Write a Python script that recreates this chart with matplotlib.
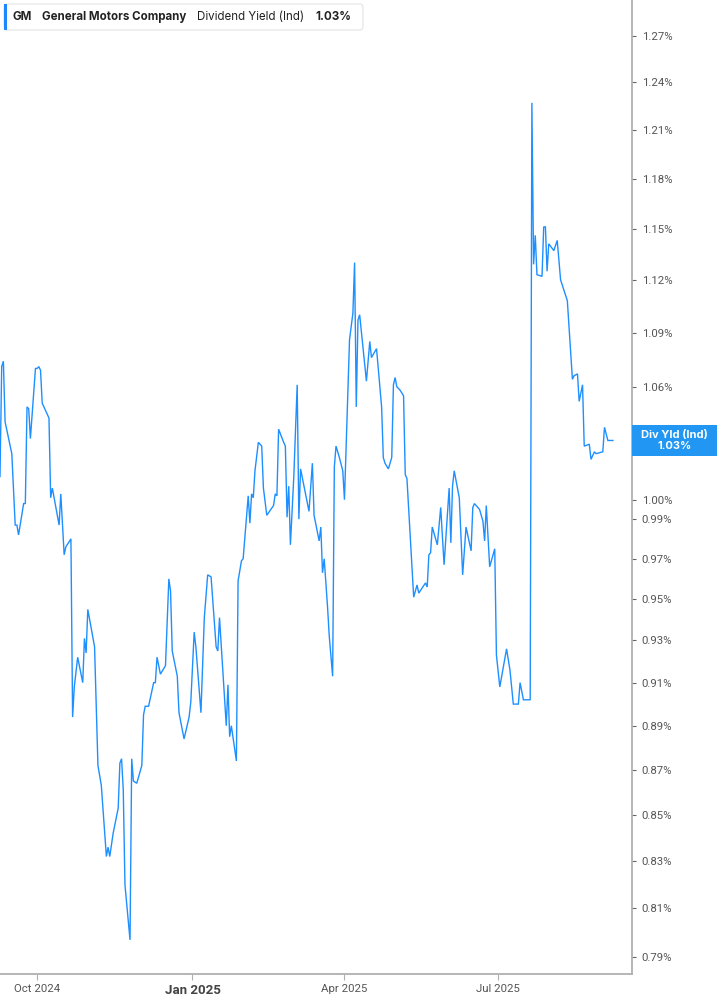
import matplotlib
matplotlib.use("Agg")
import matplotlib.pyplot as plt
import matplotlib.dates as mdates
from matplotlib.patches import Rectangle, FancyBboxPatch
from matplotlib.ticker import FixedLocator, NullLocator
from matplotlib import font_manager
import pandas as pd

# ---- data ----
dates = [
    "2024-09-09", "2024-09-10", "2024-09-11", "2024-09-12", "2024-09-16", "2024-09-18", "2024-09-19",
    "2024-09-20", "2024-09-23", "2024-09-24", "2024-09-25", "2024-09-26", "2024-09-27", "2024-09-30",
    "2024-10-01", "2024-10-02", "2024-10-03", "2024-10-04", "2024-10-08", "2024-10-09", "2024-10-10",
    "2024-10-14", "2024-10-15", "2024-10-17", "2024-10-18", "2024-10-21", "2024-10-22", "2024-10-23",
    "2024-10-25", "2024-10-28", "2024-10-29", "2024-10-30", "2024-10-31", "2024-11-04", "2024-11-06",
    "2024-11-08", "2024-11-11", "2024-11-12", "2024-11-13", "2024-11-15", "2024-11-18", "2024-11-19",
    "2024-11-20", "2024-11-21", "2024-11-22", "2024-11-25", "2024-11-26", "2024-11-27", "2024-11-29",
    "2024-12-02", "2024-12-03", "2024-12-04", "2024-12-06", "2024-12-09", "2024-12-10", "2024-12-11",
    "2024-12-13", "2024-12-16", "2024-12-18", "2024-12-19", "2024-12-20", "2024-12-23", "2024-12-24",
    "2024-12-27", "2024-12-30", "2024-12-31", "2025-01-02", "2025-01-03", "2025-01-06", "2025-01-08",
    "2025-01-10", "2025-01-12", "2025-01-15", "2025-01-16", "2025-01-17", "2025-01-21", "2025-01-22",
    "2025-01-23", "2025-01-24", "2025-01-27", "2025-01-28", "2025-01-30", "2025-01-31", "2025-02-03",
    "2025-02-04", "2025-02-05", "2025-02-06", "2025-02-07", "2025-02-09", "2025-02-11", "2025-02-12",
    "2025-02-14", "2025-02-18", "2025-02-19", "2025-02-20", "2025-02-21", "2025-02-24", "2025-02-25",
    "2025-02-26", "2025-02-27", "2025-02-28", "2025-03-02", "2025-03-04", "2025-03-05", "2025-03-06",
    "2025-03-11", "2025-03-13", "2025-03-14", "2025-03-17", "2025-03-18", "2025-03-19", "2025-03-20",
    "2025-03-22", "2025-03-23", "2025-03-25", "2025-03-26", "2025-03-27", "2025-03-29", "2025-03-31",
    "2025-04-01", "2025-04-04", "2025-04-06", "2025-04-07", "2025-04-08", "2025-04-09", "2025-04-10",
    "2025-04-14", "2025-04-16", "2025-04-17", "2025-04-20", "2025-04-23", "2025-04-24", "2025-04-25",
    "2025-04-27", "2025-04-29", "2025-04-30", "2025-05-01", "2025-05-02", "2025-05-04", "2025-05-06",
    "2025-05-07", "2025-05-08", "2025-05-12", "2025-05-14", "2025-05-15", "2025-05-19", "2025-05-20",
    "2025-05-21", "2025-05-22", "2025-05-23", "2025-05-26", "2025-05-28", "2025-05-30", "2025-06-02",
    "2025-06-03", "2025-06-04", "2025-06-05", "2025-06-08", "2025-06-10", "2025-06-12", "2025-06-15",
    "2025-06-16", "2025-06-17", "2025-06-20", "2025-06-22", "2025-06-23", "2025-06-24", "2025-06-26",
    "2025-06-29", "2025-06-30", "2025-07-02", "2025-07-06", "2025-07-08", "2025-07-10", "2025-07-13",
    "2025-07-14", "2025-07-16", "2025-07-20", "2025-07-21", "2025-07-22", "2025-07-23", "2025-07-24",
    "2025-07-27", "2025-07-28", "2025-07-29", "2025-07-30", "2025-07-31", "2025-08-03", "2025-08-05",
    "2025-08-07", "2025-08-11", "2025-08-14", "2025-08-15", "2025-08-17", "2025-08-18", "2025-08-20",
    "2025-08-21", "2025-08-24", "2025-08-25", "2025-08-27", "2025-08-28", "2025-09-01", "2025-09-02",
    "2025-09-04", "2025-09-07",
]
div_yield = [
    1.012, 1.071, 1.074, 1.041, 1.024, 0.987, 0.987,
    0.982, 0.998, 0.998, 1.049, 1.048, 1.032, 1.070,
    1.070, 1.071, 1.069, 1.051, 1.043, 1.001, 1.006,
    0.987, 1.003, 0.972, 0.976, 0.980, 0.894, 0.908,
    0.922, 0.910, 0.931, 0.924, 0.945, 0.927, 0.872,
    0.863, 0.832, 0.836, 0.832, 0.842, 0.853, 0.873,
    0.875, 0.861, 0.820, 0.797, 0.875, 0.865, 0.864,
    0.872, 0.895, 0.899, 0.899, 0.910, 0.910, 0.922,
    0.914, 0.918, 0.960, 0.954, 0.925, 0.913, 0.896,
    0.884, 0.894, 0.901, 0.934, 0.927, 0.896, 0.941,
    0.962, 0.961, 0.927, 0.925, 0.941, 0.890, 0.909,
    0.885, 0.890, 0.874, 0.959, 0.969, 0.970, 1.002,
    0.988, 1.003, 1.001, 1.015, 1.030, 1.028, 1.006,
    0.992, 0.997, 1.003, 1.002, 1.037, 1.030, 1.028,
    0.991, 1.007, 0.977, 1.012, 1.061, 0.990, 1.016,
    0.994, 1.019, 0.992, 0.979, 0.986, 0.963, 0.970,
    0.946, 0.932, 0.913, 1.017, 1.028, 1.022, 1.015,
    1.000, 1.086, 1.101, 1.130, 1.049, 1.097, 1.100,
    1.063, 1.085, 1.076, 1.081, 1.049, 1.022, 1.019,
    1.016, 1.022, 1.061, 1.065, 1.060, 1.058, 1.055,
    1.013, 1.011, 0.951, 0.957, 0.953, 0.958, 0.956,
    0.972, 0.973, 0.986, 0.977, 0.996, 0.967, 1.006,
    0.978, 1.007, 1.015, 1.001, 0.962, 0.986, 0.974,
    0.996, 0.998, 0.995, 0.989, 0.979, 0.997, 0.966,
    0.975, 0.923, 0.908, 0.926, 0.916, 0.900, 0.900,
    0.910, 0.902, 0.902, 1.227, 1.129, 1.146, 1.123,
    1.122, 1.151, 1.151, 1.125, 1.141, 1.137, 1.143,
    1.120, 1.108, 1.064, 1.066, 1.067, 1.052, 1.061,
    1.028, 1.029, 1.021, 1.025, 1.024, 1.025, 1.038,
    1.031, 1.031,
]
y_ticks = [1.27, 1.24, 1.21, 1.18, 1.15, 1.12, 1.09, 1.06, 1.03, 1.00, 0.99,
           0.97, 0.95, 0.93, 0.91, 0.89, 0.87, 0.85, 0.83, 0.81, 0.79]
x_tick_dates = ["2024-10-01", "2025-01-01", "2025-04-01", "2025-07-01"]
x_tick_labels = ["Oct 2024", "Jan 2025", "Apr 2025", "Jul 2025"]
ticker_sym = "GM"
company = "General Motors Company"
metric = "Dividend Yield (Ind)"
last_label = "1.03%"
badge_title = "Div Yld (Ind)"

# ---- fonts ----
names = {f.name for f in font_manager.fontManager.ttflist}
tick_font = "Roboto" if "Roboto" in names else "DejaVu Sans"
head_font = "Inter" if "Inter" in names else "DejaVu Sans"

LINE = "#1e8fff"
BADGE = "#2196f3"
GRAY = "#555555"
AXIS = "#b0b0b0"

W, H = 717, 1005
fig = plt.figure(figsize=(W / 100, H / 100), dpi=100)
ax_bottom_px = 974
ax_right_px = 632
ax = fig.add_axes([0, (H - ax_bottom_px) / H, ax_right_px / W, ax_bottom_px / H])

x = pd.to_datetime(dates)
ax.plot(x, div_yield, color=LINE, lw=1.0, solid_joinstyle="miter", zorder=3)

ax.set_yscale("log")
ax.set_ylim(0.7831, 1.2938)
ax.set_xlim(pd.Timestamp("2024-09-09"), pd.Timestamp("2025-09-18 07:00"))

# the 1.03% tick sits under the last-value badge, so its label is hidden
ax.yaxis.set_major_locator(FixedLocator(y_ticks))
ax.yaxis.set_minor_locator(NullLocator())
ax.set_yticklabels(["" if abs(v - 1.03) < 1e-9 else f"{v:.2f}%" for v in y_ticks])
ax.yaxis.tick_right()
ax.tick_params(axis="y", which="major", direction="out", length=3, width=0.8,
               color="#666666", labelsize=8.2, labelcolor=GRAY, pad=4)
for lab in ax.get_yticklabels():
    lab.set_fontfamily(tick_font)

ax.set_xticks(pd.to_datetime(x_tick_dates))
ax.set_xticklabels(x_tick_labels)
ax.xaxis.set_minor_locator(NullLocator())
ax.tick_params(axis="x", which="major", direction="out", length=4, width=0.8,
               color=AXIS, labelsize=8.2, labelcolor=GRAY, pad=3.5)
for lab in ax.get_xticklabels():
    lab.set_fontfamily(tick_font)
    if lab.get_text().startswith("Jan"):
        lab.set_fontweight("bold")
        lab.set_fontsize(9.5)
        lab.set_color("#444444")

for s in ["left", "top"]:
    ax.spines[s].set_visible(False)
for s in ["right", "bottom"]:
    ax.spines[s].set_color(AXIS)
    ax.spines[s].set_linewidth(1.3)
ax.patch.set_facecolor("white")

# ---- header legend box ----
bx0, bx1, by0, by1 = 4, 363, 4, 30
fig.patches.append(FancyBboxPatch((bx0 / W, 1 - by1 / H), (bx1 - bx0) / W, (by1 - by0) / H,
                                  boxstyle="round,pad=0,rounding_size=0.004",
                                  transform=fig.transFigure, facecolor="white",
                                  edgecolor="#e3e3e3", lw=0.8, zorder=5))
fig.patches.append(Rectangle((bx0 / W, 1 - by1 / H), 3 / W, (by1 - by0) / H,
                             transform=fig.transFigure, facecolor="#1e88ff",
                             edgecolor="none", zorder=6))
ty = 1 - 17 / H
hdr = [(13, ticker_sym, "bold"), (42, company, "bold"), (197, metric, "normal"), (315, last_label, "bold")]
for px, txt, wt in hdr:
    fig.text(px / W, ty, txt, fontsize=8.3, fontweight=wt, color="#222222",
             family=head_font, va="center", ha="left", zorder=7)

# ---- last value badge on right axis ----
xd, yd = ax.transData.transform((mdates.date2num(x[-1]), div_yield[-1]))
yc = yd / H  # figure fraction (display px from bottom)
bh = 31
fig.patches.append(Rectangle((ax_right_px / W, yc - bh / 2 / H), (W - ax_right_px) / W, bh / H,
                             transform=fig.transFigure, facecolor=BADGE,
                             edgecolor="none", zorder=8))
xc = (ax_right_px + W) / 2 / W
fig.text(xc, yc + 5.5 / H, badge_title, fontsize=8, fontweight="bold", color="white",
         family=head_font, ha="center", va="center", zorder=9)
fig.text(xc, yc - 6 / H, last_label, fontsize=8, fontweight="bold", color="white",
         family=head_font, ha="center", va="center", zorder=9)

fig.savefig("out.png", dpi=100, facecolor="white")
